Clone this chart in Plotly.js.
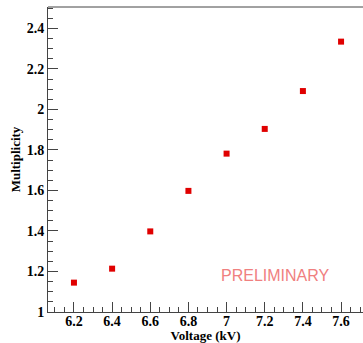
<!DOCTYPE html>
<html><head>
<script src="https://cdn.plot.ly/plotly-3.0.1.min.js"></script>
<style>html,body{margin:0;padding:0;background:#fff;}#c{width:363px;height:343px;}</style>
</head><body>
<div id="c"></div>
<script>
const voltage = [6.2, 6.4, 6.6, 6.8, 7.0, 7.2, 7.4, 7.6];
const multiplicity = [1.145, 1.214, 1.398, 1.598, 1.782, 1.904, 2.091, 2.335];
const xTitle = 'Voltage (kV)';
const yTitle = 'Multiplicity';
const watermark = 'PRELIMINARY';

const serifFam = 'Liberation Serif, Times New Roman, serif';
const trace = {
  x: voltage, y: multiplicity, type: 'scatter', mode: 'markers',
  marker: {symbol: 'square', size: 6, color: '#e00000'},
  hoverinfo: 'none'
};
const tickFont = {family: serifFam, size: 14, color: '#000', weight: 700};
const layout = {
  width: 363, height: 343,
  margin: {l: 48, r: 0, t: 7, b: 31},
  paper_bgcolor: '#fff', plot_bgcolor: '#fff',
  showlegend: false,
  font: {family: serifFam, size: 13, color: '#000'},
  xaxis: {
    range: [6.064, 7.715], showgrid: false, zeroline: false,
    showline: true, linecolor: '#444', linewidth: 1, mirror: false,
    ticks: 'inside', ticklen: 10, tickcolor: '#444', dtick: 0.2, tick0: 6.2,
    tickfont: tickFont, ticklabelstandoff: -4,
    tickprefix: '<b>', ticksuffix: '</b>',
    minor: {dtick: 0.05, ticks: 'inside', ticklen: 5, tickcolor: '#444'},
    title: {text: '<b>' + xTitle + '</b>', font: {family: serifFam, size: 13, color: '#000', weight: 700}, standoff: 2}
  },
  yaxis: {
    range: [1, 2.506], showgrid: false, zeroline: false,
    showline: true, linecolor: '#444', linewidth: 1, mirror: false,
    ticks: 'inside', ticklen: 10, tickcolor: '#444', dtick: 0.2, tick0: 1,
    tickfont: tickFont, tickprefix: '<b>', ticksuffix: '</b>',
    minor: {dtick: 0.05, ticks: 'inside', ticklen: 5, tickcolor: '#444'},
    title: {text: '<b>' + yTitle + '</b>', font: {family: serifFam, size: 13, color: '#000', weight: 700}, standoff: 3}
  },
  shapes: [{
    type: 'line', xref: 'paper', yref: 'paper', x0: 0, x1: 1, y0: 1, y1: 1,
    line: {color: '#444', width: 1}
  }],
  annotations: [{
    text: watermark, xref: 'paper', yref: 'paper', x: 0.722, y: 0.12,
    xanchor: 'center', yanchor: 'middle', showarrow: false,
    font: {family: 'Liberation Sans, Arial, sans-serif', size: 16, color: '#f08080'}
  }]
};
Plotly.newPlot('c', [trace], layout, {displayModeBar: false, staticPlot: true});
</script>
</body></html>
